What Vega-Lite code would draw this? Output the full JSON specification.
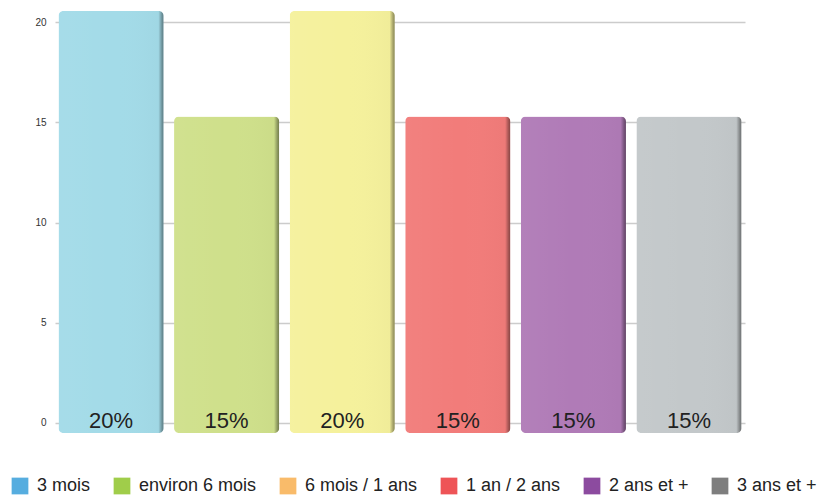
{
  "$schema": "https://vega.github.io/schema/vega-lite/v6.json",
  "autosize": "none",
  "width": 690,
  "height": 422,
  "padding": {"left": 55, "top": 11, "right": 78, "bottom": 64},
  "background": "white",
  "config": {"view": {"stroke": null}, "font": "Liberation Sans"},
  "data": {"values": [
    {"cat": "3 mois", "value": 20, "label": "20%"},
    {"cat": "environ 6 mois", "value": 15, "label": "15%"},
    {"cat": "6 mois / 1 ans", "value": 20, "label": "20%"},
    {"cat": "1 an / 2 ans", "value": 15, "label": "15%"},
    {"cat": "2 ans et +", "value": 15, "label": "15%"},
    {"cat": "3 ans et +", "value": 15, "label": "15%"}
  ]},
  "layer": [
    {
      "mark": {"type": "tick", "opacity": 0},
      "encoding": {
        "y": {"field": "value", "type": "quantitative",
          "scale": {"domain": [-0.5, 20.55], "nice": false, "zero": false},
          "axis": {"values": [0, 5, 10, 15, 20], "title": null, "domain": false, "ticks": false,
            "labelPadding": 9, "labelFontSize": 10, "labelColor": "#333",
            "gridColor": "#cccccc", "gridWidth": 1.5}}
      }
    },
    {
      "mark": {"type": "square", "opacity": 0},
      "encoding": {
        "color": {"field": "cat", "type": "nominal", "sort": null,
          "scale": {"range": ["#56addf", "#a0cd4a", "#f9bb6a", "#ee5457", "#8c4b9f", "#7e7e7e"]},
          "legend": {"title": null, "orient": "none", "legendX": -44, "legendY": 466,
            "direction": "horizontal", "symbolType": "square", "symbolSize": 280,
            "symbolStrokeWidth": 0, "labelFontSize": 18, "labelColor": "#222",
            "labelOffset": 8, "columnPadding": 22, "symbolOpacity": 1}}
      }
    },
    {
      "mark": {"type": "bar", "cornerRadius": 5},
      "encoding": {
        "x": {"field": "cat", "type": "nominal", "sort": null, "axis": null,
          "scale": {"paddingInner": 0.09, "paddingOuter": 0.03}},
        "y": {"field": "value", "type": "quantitative",
          "scale": {"domain": [0, 20], "nice": false}, "axis": null},
        "fill": {"field": "cat", "type": "nominal", "sort": null, "legend": null,
          "scale": {"range": ["#a3dbe8", "#cfe08b", "#f5f19c", "#f27c7a", "#b07bb7", "#c3c8ca"]}}
      }
    },
    {
      "mark": {"type": "bar", "cornerRadius": 5,
        "fill": {"gradient": "linear", "x1": 0, "x2": 1, "y1": 0, "y2": 0,
          "stops": [
            {"offset": 0, "color": "rgba(255,255,255,0.04)"},
            {"offset": 0.5, "color": "rgba(255,255,255,0)"},
            {"offset": 0.95, "color": "rgba(0,0,0,0.02)"},
            {"offset": 0.98, "color": "rgba(0,0,0,0.3)"},
            {"offset": 1, "color": "rgba(0,0,0,0.45)"}]}},
      "encoding": {
        "x": {"field": "cat", "type": "nominal", "sort": null, "axis": null,
          "scale": {"paddingInner": 0.09, "paddingOuter": 0.03}},
        "y": {"field": "value", "type": "quantitative",
          "scale": {"domain": [0, 20], "nice": false}, "axis": null}
      }
    },
    {
      "mark": {"type": "text", "fontSize": 22, "color": "#222", "baseline": "alphabetic", "dy": -5},
      "encoding": {
        "x": {"field": "cat", "type": "nominal", "sort": null, "axis": null,
          "scale": {"paddingInner": 0.09, "paddingOuter": 0.03}},
        "y": {"datum": 0, "type": "quantitative", "scale": {"domain": [0, 20], "nice": false}, "axis": null},
        "text": {"field": "label"}
      }
    }
  ],
  "resolve": {"scale": {"y": "independent", "x": "shared"}, "axis": {"y": "independent"}}
}
